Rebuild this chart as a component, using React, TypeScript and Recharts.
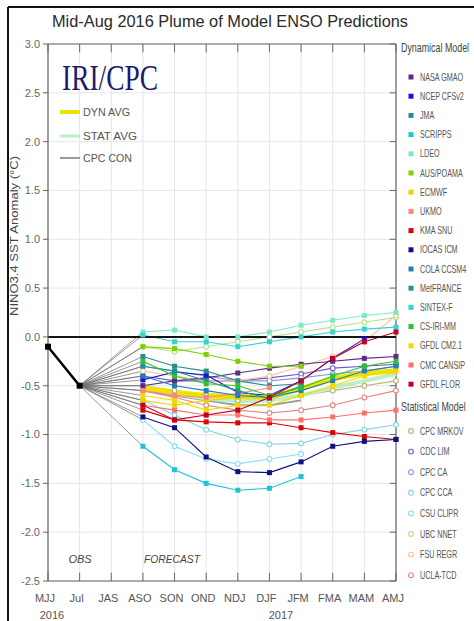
import React from "react";
import { LineChart, Line, XAxis, YAxis, CartesianGrid, ReferenceLine } from "recharts";

const seasons = ["MJJ", "Jul", "JAS", "ASO", "SON", "OND", "NDJ", "DJF", "JFM", "FMA", "MAM", "AMJ"];
const xTicks = seasons.map((_, i) => i);
const yTicks = [3, 2.5, 2, 1.5, 1, 0.5, 0, -0.5, -1, -1.5, -2, -2.5];

// observed: MJJ, Jul
const observed = [-0.1, -0.5];

// forecasts ASO .. AMJ (null = no forecast for that season)
const nasaGmao = [-0.5, -0.45, -0.42, -0.37, -0.32, -0.28, -0.25, -0.22, -0.2];
const ncepCfsv2 = [-0.44, -0.36, -0.39, -0.57, -0.6, -0.45, -0.22, -0.02, null];
const jma = [-0.2, -0.3, -0.35, -0.45, -0.5, -0.48, null, null, null];
const scripps = [-1.12, -1.36, -1.5, -1.57, -1.55, -1.43, null, null, null];
const ldeo = [0.05, 0.07, 0.0, 0.0, 0.05, 0.12, 0.17, 0.22, 0.25];
const ausPoama = [-0.1, -0.12, -0.18, -0.25, -0.3, -0.3, null, null, null];
const ecmwf = [-0.65, -0.7, -0.65, -0.62, -0.6, null, null, null, null];
const ukmo = [-0.55, -0.6, -0.62, -0.58, -0.52, null, null, null, null];
const kmaSnu = [-0.75, -0.85, -0.87, -0.88, -0.88, -0.93, -0.98, -1.02, -1.05];
const iocasIcm = [-0.82, -0.93, -1.23, -1.38, -1.39, -1.28, -1.12, -1.07, -1.05];
const colaCcsm4 = [-0.4, -0.5, -0.55, -0.6, -0.62, -0.55, -0.45, -0.35, -0.3];
const metFrance = [-0.3, -0.35, -0.45, -0.55, -0.63, -0.5, null, null, null];
const sintexF = [0.02, -0.05, -0.05, -0.1, -0.05, 0.0, 0.05, 0.08, 0.1];
const csIriMm = [-0.25, -0.4, -0.48, -0.5, -0.6, -0.52, -0.4, -0.3, -0.25];
const gfdlCm21 = [-0.6, -0.65, -0.75, -0.7, -0.7, -0.6, -0.5, -0.4, -0.35];
const cmcCansip = [-0.7, -0.75, -0.8, -0.8, -0.85, -0.85, -0.82, -0.78, -0.75];
const gfdlFlor = [-0.7, -0.85, -0.8, -0.75, -0.62, -0.45, -0.22, -0.05, 0.05];

const cpcMrkov = [-0.5, -0.55, -0.6, -0.65, -0.65, -0.6, -0.55, -0.5, -0.45];
const cdcLim = [-0.4, -0.45, -0.45, -0.45, -0.42, -0.38, -0.32, -0.3, -0.28];
const cpcCa = [-0.3, -0.35, -0.4, -0.45, -0.45, -0.42, -0.38, -0.35, -0.3];
const cpcCca = [-0.65, -0.8, -0.95, -1.05, -1.1, -1.09, -1.0, -0.95, -0.9];
const csuClipr = [-0.85, -1.12, -1.25, -1.3, -1.25, -1.2, null, null, null];
const ubcNnet = [-0.1, -0.15, -0.1, -0.05, 0.0, 0.05, 0.1, 0.15, 0.2];
const fsuRegr = [-0.35, -0.4, -0.45, -0.45, -0.4, -0.3, -0.2, -0.05, 0.22];
const uclaTcd = [-0.55, -0.62, -0.7, -0.75, -0.78, -0.75, -0.7, -0.62, -0.55];

const dynAvg = [-0.52, -0.57, -0.6, -0.61, -0.62, -0.53, -0.43, -0.37, -0.35];
const statAvg = [-0.5, -0.58, -0.63, -0.66, -0.65, -0.6, -0.52, -0.45, -0.38];
const cpcCon = [-0.55, -0.6, -0.65, -0.7, -0.7, -0.65, null, null, null];

const dynModels = [
  { name: "NASA GMAO", values: nasaGmao, color: "#5a2a8c" },
  { name: "NCEP CFSv2", values: ncepCfsv2, color: "#1414e0" },
  { name: "JMA", values: jma, color: "#2a8c8c" },
  { name: "SCRIPPS", values: scripps, color: "#1cc4d4" },
  { name: "LDEO", values: ldeo, color: "#7fe8c4" },
  { name: "AUS/POAMA", values: ausPoama, color: "#7ed000" },
  { name: "ECMWF", values: ecmwf, color: "#e8d400" },
  { name: "UKMO", values: ukmo, color: "#ff8484" },
  { name: "KMA SNU", values: kmaSnu, color: "#e00000" },
  { name: "IOCAS ICM", values: iocasIcm, color: "#101080" },
  { name: "COLA CCSM4", values: colaCcsm4, color: "#2080b4" },
  { name: "MetFRANCE", values: metFrance, color: "#209494" },
  { name: "SINTEX-F", values: sintexF, color: "#34d4d4" },
  { name: "CS-IRI-MM", values: csIriMm, color: "#30c030" },
  { name: "GFDL CM2.1", values: gfdlCm21, color: "#f4d800" },
  { name: "CMC CANSIP", values: cmcCansip, color: "#ff7070" },
  { name: "GFDL FLOR", values: gfdlFlor, color: "#c40020" },
];

const statModels = [
  { name: "CPC MRKOV", values: cpcMrkov, color: "#b8b070" },
  { name: "CDC LIM", values: cdcLim, color: "#6a5ac8" },
  { name: "CPC CA", values: cpcCa, color: "#8a9ad8" },
  { name: "CPC CCA", values: cpcCca, color: "#80d4e4" },
  { name: "CSU CLIPR", values: csuClipr, color: "#84e0f4" },
  { name: "UBC NNET", values: ubcNnet, color: "#b4e488" },
  { name: "FSU REGR", values: fsuRegr, color: "#ffc094" },
  { name: "UCLA-TCD", values: uclaTcd, color: "#e48484" },
];

const allModels = [...dynModels, ...statModels];
const FONT = "'Liberation Sans', Arial, sans-serif";
const AXIS = "#666";
// length of the inward edge ticks, in axis units
const X_TICK_LEN = 0.085;
const Y_TICK_LEN = 0.2;

function squareDot(color: string, size = 5) {
  return (p: any) => {
    if (p.cx == null || p.cy == null || p.value == null) return <g key={"d" + p.index} />;
    return <rect key={"d" + p.index} x={p.cx - size / 2} y={p.cy - size / 2} width={size} height={size} fill={color} />;
  };
}

function ringDot(color: string) {
  return (p: any) => {
    if (p.cx == null || p.cy == null || p.value == null) return <g key={"r" + p.index} />;
    return <circle key={"r" + p.index} cx={p.cx} cy={p.cy} r={2.4} fill="#fff" stroke={color} strokeWidth={1.1} />;
  };
}

export default function App() {
  const rows = seasons.map((s, i) => {
    const row: any = { x: i, obs: i < 2 ? observed[i] : null };
    const f = (arr: (number | null)[]) => (i >= 3 ? arr[i - 3] : null);
    allModels.forEach((m, k) => {
      row["m" + k] = f(m.values);
      row["c" + k] = i === 1 ? observed[1] : i === 3 ? m.values[0] : null;
    });
    row.dynAvg = f(dynAvg);
    row.statAvg = f(statAvg);
    row.cpcCon = f(cpcCon);
    return row;
  });

  const nDyn = dynModels.length;
  const yTop = yTicks[0];
  const yBot = yTicks[yTicks.length - 1];
  const xEnd = xTicks[xTicks.length - 1];

  return (
    <div style={{ position: "absolute", left: 0, top: 0, width: 474, height: 621, background: "#fff", overflow: "hidden" }}>
      <LineChart width={474} height={621} data={rows} margin={{ top: 44, right: 78, bottom: 10, left: 8 }}>
        <CartesianGrid stroke="#e6e6e6" strokeWidth={1} />
        <XAxis
          dataKey="x"
          type="number"
          domain={[0, 11]}
          ticks={xTicks}
          interval={0}
          tickFormatter={(v: number) => seasons[v]}
          tickLine={false}
          tickSize={0}
          tickMargin={13}
          height={30}
          axisLine={{ stroke: AXIS, strokeWidth: 1.2 }}
          tick={{ fontSize: 11, fill: "#555", fontFamily: FONT, dx: -3 }}
        />
        <YAxis
          type="number"
          domain={[-2.5, 3]}
          ticks={yTicks}
          interval={0}
          width={40}
          tickSize={5}
          tickMargin={3}
          tickFormatter={(v: number) => v.toFixed(1)}
          axisLine={{ stroke: AXIS, strokeWidth: 1.2 }}
          tickLine={{ stroke: AXIS }}
          tick={{ fontSize: 11, fill: "#666", fontFamily: FONT }}
        />

        {/* plot frame top / right and inward ticks */}
        <ReferenceLine y={yTop} stroke={AXIS} strokeWidth={1.2} />
        <ReferenceLine x={xEnd} stroke={AXIS} strokeWidth={1.2} />
        {xTicks.map((t) => (
          <ReferenceLine key={"tt" + t} segment={[{ x: t, y: yTop }, { x: t, y: yTop - X_TICK_LEN }]} stroke={AXIS} />
        ))}
        {xTicks.map((t) => (
          <ReferenceLine key={"tb" + t} segment={[{ x: t, y: yBot }, { x: t, y: yBot + X_TICK_LEN }]} stroke={AXIS} />
        ))}
        {yTicks.map((t) => (
          <ReferenceLine key={"tr" + t} segment={[{ x: xEnd, y: t }, { x: xEnd - Y_TICK_LEN, y: t }]} stroke={AXIS} />
        ))}

        {allModels.map((m, k) => (
          <Line key={"c" + k} dataKey={"c" + k} stroke="#6c6c6c" strokeWidth={0.7} dot={false} connectNulls isAnimationActive={false} />
        ))}
        {statModels.map((m, j) => (
          <Line key={"s" + j} dataKey={"m" + (nDyn + j)} stroke={m.color} strokeWidth={1.1} dot={ringDot(m.color)} isAnimationActive={false} />
        ))}
        <Line dataKey="cpcCon" stroke="#9a9a9a" strokeWidth={2} dot={false} isAnimationActive={false} />
        <Line dataKey="statAvg" stroke="#bdeec8" strokeWidth={4} dot={false} isAnimationActive={false} />
        <Line dataKey="dynAvg" stroke="#f0e200" strokeWidth={5} dot={false} isAnimationActive={false} />
        {dynModels.map((m, k) => (
          <Line key={"d" + k} dataKey={"m" + k} stroke={m.color} strokeWidth={1.1} dot={squareDot(m.color)} isAnimationActive={false} />
        ))}
        <ReferenceLine y={0} stroke="#151515" strokeWidth={2} />
        <Line dataKey="obs" stroke="#000" strokeWidth={2.5} dot={squareDot("#000", 6)} isAnimationActive={false} />
      </LineChart>

      <svg width={474} height={621} style={{ position: "absolute", left: 0, top: 0, pointerEvents: "none" }}>
        <line x1={8} y1={7} x2={474} y2={7} stroke="#111" strokeWidth={2} />
        <line x1={8} y1={7} x2={8} y2={621} stroke="#111" strokeWidth={2} />
        <text x={52} y={27} fontFamily={FONT} fontSize={17} fill="#2a2a2a" textLength={356} lengthAdjust="spacingAndGlyphs">
          Mid-Aug 2016 Plume of Model ENSO Predictions
        </text>
        <text transform="translate(18,236) rotate(-90)" textAnchor="middle" fontFamily={FONT} fontSize={11} fill="#444" textLength={160} lengthAdjust="spacingAndGlyphs">
          NINO3.4 SST Anomaly (°C)
        </text>

        <text x={62} y={90} fontFamily="'Liberation Serif', 'Times New Roman', serif" fontSize={35} fill="#1c1c6c" textLength={96} lengthAdjust="spacingAndGlyphs">
          IRI/CPC
        </text>
        <line x1={60} y1={112} x2={80} y2={112} stroke="#f0e200" strokeWidth={4} />
        <text x={83} y={116} fontFamily={FONT} fontSize={11} fill="#555" textLength={47} lengthAdjust="spacingAndGlyphs">DYN AVG</text>
        <line x1={60} y1={136} x2={80} y2={136} stroke="#bdeec8" strokeWidth={3} />
        <text x={83} y={140} fontFamily={FONT} fontSize={11} fill="#555" textLength={54} lengthAdjust="spacingAndGlyphs">STAT AVG</text>
        <line x1={60} y1={158} x2={80} y2={158} stroke="#9a9a9a" strokeWidth={2} />
        <text x={83} y={162} fontFamily={FONT} fontSize={11} fill="#555" textLength={49} lengthAdjust="spacingAndGlyphs">CPC CON</text>

        <text x={80} y={563} textAnchor="middle" fontFamily={FONT} fontStyle="italic" fontSize={11} fill="#444">OBS</text>
        <text x={172} y={563} textAnchor="middle" fontFamily={FONT} fontStyle="italic" fontSize={11} fill="#444" textLength={56} lengthAdjust="spacingAndGlyphs">FORECAST</text>
        <text x={52} y={619} textAnchor="middle" fontFamily={FONT} fontSize={11} fill="#555">2016</text>
        <text x={281} y={619} textAnchor="middle" fontFamily={FONT} fontSize={11} fill="#555">2017</text>

        <g transform="translate(401,0) scale(0.74,1)">
          <text x={0} y={52} fontFamily={FONT} fontSize={12} fill="#444">Dynamical Model</text>
          <text x={0} y={411} fontFamily={FONT} fontSize={12} fill="#444">Statistical Model</text>
        </g>
        {dynModels.map((m, k) => {
          const y = 77 + k * 19.2;
          return (
            <g key={"ld" + k}>
              <rect x={408.5} y={y - 2.5} width={5} height={5} fill={m.color} />
              <g transform={`translate(420,${y + 3.5}) scale(0.72,1)`}>
                <text x={0} y={0} fontFamily={FONT} fontSize={10} fill="#555">{m.name}</text>
              </g>
            </g>
          );
        })}
        {statModels.map((m, j) => {
          const y = 431 + j * 20.6;
          return (
            <g key={"ls" + j}>
              <circle cx={411} cy={y} r={2.4} fill="#fff" stroke={m.color} strokeWidth={1.1} />
              <g transform={`translate(420,${y + 3.5}) scale(0.72,1)`}>
                <text x={0} y={0} fontFamily={FONT} fontSize={10} fill="#555">{m.name}</text>
              </g>
            </g>
          );
        })}
      </svg>
    </div>
  );
}
